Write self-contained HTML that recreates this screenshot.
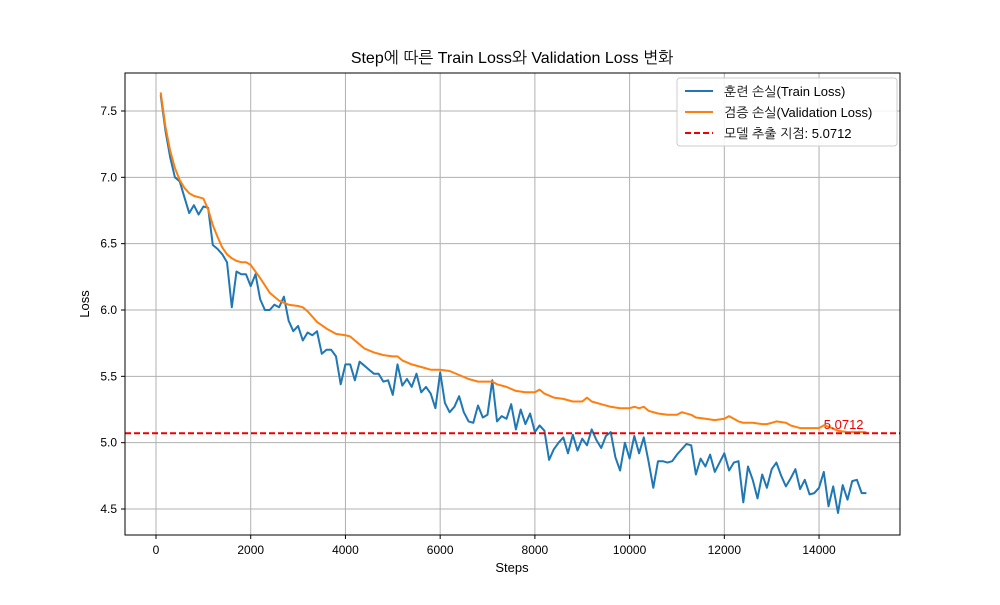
<!DOCTYPE html>
<html><head><meta charset="utf-8"><style>
body{margin:0;background:#fff}
svg text{font-family:"Liberation Sans","NanumGothic","Noto Sans CJK KR",sans-serif}
</style></head><body>
<svg id="chart" width="1000" height="600" xmlns="http://www.w3.org/2000/svg">
<rect width="1000" height="600" fill="#fff"/>
<text x="512" y="63" font-size="16" text-anchor="middle">Step에 따른 Train Loss와 Validation Loss 변화</text>
<g id="grid"></g>
<g id="series"></g>
<rect x="125" y="73" width="775" height="462" fill="none" stroke="#000" stroke-width="1"/>
<g id="ticks"></g>
<text x="512" y="572" font-size="13" text-anchor="middle">Steps</text>
<text x="89" y="304" font-size="13" text-anchor="middle" transform="rotate(-90 89 304)">Loss</text>
<g>
<rect x="677" y="78" width="220" height="68" rx="3" fill="#fff" fill-opacity="0.85" stroke="#ccc"/>
<line x1="685" y1="91" x2="713" y2="91" stroke="#1f77b4" stroke-width="2"/>
<text x="724" y="96" font-size="13">훈련 손실(Train Loss)</text>
<line x1="685" y1="112" x2="713" y2="112" stroke="#ff7f0e" stroke-width="2"/>
<text x="724" y="117" font-size="13">검증 손실(Validation Loss)</text>
<line x1="685" y1="133" x2="713" y2="133" stroke="#e00" stroke-width="2" stroke-dasharray="6,3"/>
<text x="724" y="138" font-size="13">모델 추출 지점: 5.0712</text>
</g>
</svg>
<script>
const trainSteps=[];for(let s=100;s<=15000;s+=100)trainSteps.push(s);
const trainLoss=[7.62,7.35,7.15,7.0,6.97,6.85,6.73,6.79,6.72,6.78,6.77,6.49,6.46,6.42,6.36,6.02,6.29,6.27,6.27,6.18,6.27,6.08,6.0,6.0,6.04,6.02,6.1,5.92,5.84,5.88,5.77,5.83,5.81,5.84,5.67,5.70,5.70,5.65,5.44,5.59,5.59,5.47,5.61,5.58,5.55,5.52,5.52,5.46,5.47,5.36,5.59,5.43,5.48,5.42,5.52,5.38,5.42,5.37,5.26,5.53,5.30,5.23,5.27,5.35,5.23,5.16,5.15,5.28,5.19,5.21,5.47,5.16,5.20,5.18,5.29,5.10,5.25,5.14,5.22,5.08,5.13,5.09,4.87,4.95,5.0,5.04,4.92,5.06,4.94,5.03,4.98,5.10,5.02,4.96,5.05,5.08,4.89,4.79,5.0,4.88,5.05,4.92,5.04,4.86,4.66,4.86,4.86,4.85,4.86,4.91,4.95,4.99,4.98,4.76,4.88,4.82,4.91,4.78,4.85,4.92,4.79,4.85,4.86,4.55,4.82,4.72,4.58,4.76,4.66,4.80,4.85,4.75,4.67,4.73,4.80,4.65,4.72,4.61,4.62,4.66,4.78,4.52,4.67,4.47,4.68,4.57,4.71,4.72,4.62,4.62];
const valSteps=[100,200,300,400,500,600,700,800,900,1000,1100,1200,1300,1400,1500,1600,1700,1800,1900,2000,2200,2400,2600,2800,3000,3100,3200,3400,3600,3800,4000,4100,4200,4400,4600,4800,5000,5100,5200,5400,5600,5800,6000,6200,6400,6600,6800,7000,7100,7200,7400,7600,7800,8000,8100,8200,8400,8600,8800,9000,9100,9200,9400,9600,9800,10000,10100,10200,10300,10400,10600,10800,11000,11100,11300,11400,11600,11800,12000,12100,12200,12300,12400,12600,12800,12900,13000,13100,13300,13400,13600,13800,14000,14100,14200,14400,14600,14800,15000];
const valLoss=[7.64,7.38,7.20,7.07,6.98,6.92,6.88,6.86,6.85,6.84,6.76,6.64,6.55,6.47,6.42,6.39,6.37,6.36,6.36,6.34,6.24,6.13,6.07,6.04,6.03,6.02,5.99,5.91,5.86,5.82,5.81,5.80,5.77,5.71,5.68,5.66,5.65,5.65,5.62,5.59,5.57,5.55,5.55,5.54,5.51,5.48,5.46,5.46,5.46,5.44,5.42,5.39,5.38,5.38,5.40,5.37,5.34,5.33,5.31,5.31,5.34,5.31,5.29,5.27,5.26,5.26,5.27,5.26,5.27,5.24,5.22,5.21,5.21,5.23,5.21,5.19,5.18,5.17,5.18,5.20,5.18,5.16,5.15,5.15,5.14,5.14,5.15,5.16,5.15,5.13,5.11,5.11,5.11,5.13,5.12,5.09,5.08,5.08,5.08];
const checkpointLoss=5.0712;
const xTicks=[0,2000,4000,6000,8000,10000,12000,14000];
const yTicks=[4.5,5.0,5.5,6.0,6.5,7.0,7.5];
const NS='http://www.w3.org/2000/svg';
const X=s=>156+s*0.04736;
const Y=v=>509-(v-4.5)*132.67;
function mk(tag,attrs,parent){const e=document.createElementNS(NS,tag);for(const k in attrs)e.setAttribute(k,attrs[k]);parent.appendChild(e);return e;}
const grid=document.getElementById('grid'),ticks=document.getElementById('ticks'),ser=document.getElementById('series');
xTicks.forEach(t=>{const x=X(t);
 const g=mk('line',{x1:x,x2:x,y1:73,y2:535,stroke:'#b0b0b0','stroke-width':1},grid);
 
 
 mk('line',{x1:x,x2:x,y1:535,y2:539,stroke:'#000'},ticks);
 const tx=mk('text',{x:x,y:554,'font-size':12,'text-anchor':'middle'},ticks);tx.textContent=t;
 
 });
yTicks.forEach(t=>{const y=Y(t);
 const g=mk('line',{x1:125,x2:900,y1:y,y2:y,stroke:'#b0b0b0','stroke-width':1},grid);
 
 
 mk('line',{x1:121,x2:125,y1:y,y2:y,stroke:'#000'},ticks);
 const tx=mk('text',{x:117,y:y+4,'font-size':12,'text-anchor':'end'},ticks);tx.textContent=t.toFixed(1);
 
 });
const pl=(xs,ys)=>xs.map((s,i)=>X(s).toFixed(1)+','+Y(ys[i]).toFixed(1)).join(' ');
const tl=mk('polyline',{points:pl(trainSteps,trainLoss),fill:'none',stroke:'#1f77b4','stroke-width':2,'stroke-linejoin':'round'},ser);


const vl=mk('polyline',{points:pl(valSteps,valLoss),fill:'none',stroke:'#ff7f0e','stroke-width':2,'stroke-linejoin':'round'},ser);


const cy=Y(checkpointLoss);
const cl=mk('line',{x1:125,x2:900,y1:cy,y2:cy,stroke:'#e00','stroke-width':2,'stroke-dasharray':'6,3'},ser);


const ct=mk('text',{x:X(14100),y:cy-4,'font-size':13,fill:'#e00'},ser);ct.textContent=checkpointLoss.toFixed(4);


</script>
</body></html>
